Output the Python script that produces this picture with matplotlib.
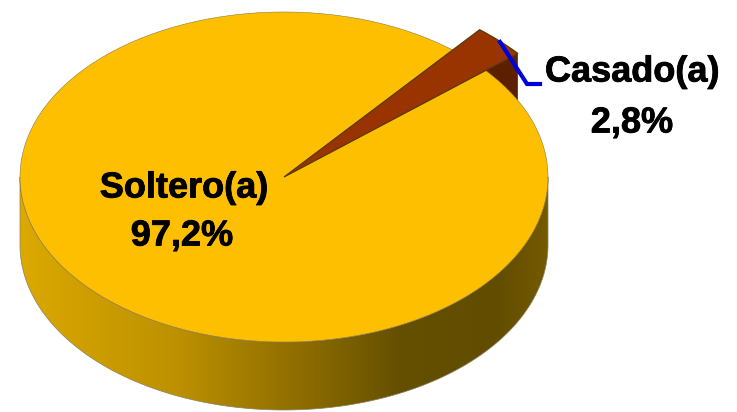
import numpy as np
import matplotlib
matplotlib.use("Agg")
import matplotlib.pyplot as plt
import matplotlib.patheffects as pe
from matplotlib.colors import LinearSegmentedColormap
from matplotlib.patches import Polygon

# data
categories = ["Soltero(a)", "Casado(a)"]
values = [97.2, 2.8]
slice_colors = ["#FDBF00", "#993300"]

W, H = 737, 412
CX, CY = 284, 177     # centre of the top face, pixels
RX, RY = 264, 165     # radii of the top face, pixels
DEPTH = 68 / RY       # height of the side wall, in axis units
START = 50.3          # degrees
CASADO_R = 1.16       # the small slice sticks out past the big one


def to_x(px):
    return (px - CX) / RX


def to_y(py):
    return (CY - py) / RY


plt.rcParams['font.family'] = ['Liberation Sans', 'DejaVu Sans']
fig = plt.figure(figsize=(W / 100, H / 100), dpi=100)
ax = fig.add_axes([0, 0, 1, 1])

# side wall with the left to right shading
rim_cmap = LinearSegmentedColormap.from_list("rim", [
    (0.0, "#DCA900"), (0.3, "#BC9000"), (0.55, "#8A6A00"),
    (0.72, "#655000"), (0.9, "#614C00"), (1.0, "#745A00")])
t = np.radians(np.linspace(180, 360, 200))
rim_x = np.concatenate([np.cos(t), np.cos(t[::-1])])
rim_y = np.concatenate([np.sin(t) - DEPTH, np.sin(t[::-1])])
rim_shape = Polygon(np.column_stack([rim_x, rim_y]), closed=True, transform=ax.transData,
                    facecolor="none", edgecolor="#8a8060", linewidth=0.5, zorder=2)
ax.add_patch(rim_shape)
gradient = ax.imshow(np.linspace(0, 1, 256).reshape(1, -1), cmap=rim_cmap, aspect="auto",
                     extent=(-1, 1, -1 - DEPTH, 0), zorder=1)
gradient.set_clip_path(rim_shape)

# cut face of the small slice, sits behind the big slice
end_casado = START - 360 * values[1] / sum(values)
corner = (CASADO_R * np.cos(np.radians(end_casado)), CASADO_R * np.sin(np.radians(end_casado)))
ax.add_patch(Polygon([(0, 0), corner, (corner[0], corner[1] - DEPTH), (0, -DEPTH)],
                     closed=True, facecolor="#5C1F00", edgecolor="none", zorder=3))

# the two slices
wedges, _ = ax.pie(values, colors=slice_colors, startangle=START, counterclock=True,
                   radius=1, center=(0, 0), frame=False)
wedges[0].set_zorder(5)
wedges[0].set_edgecolor("#8a7a40")
wedges[0].set_linewidth(0.4)
wedges[1].set_radius(CASADO_R)
wedges[1].set_zorder(6)
wedges[1].set_edgecolor("#5a3a08")
wedges[1].set_linewidth(0.9)

# leader line for the small slice
ax.plot([to_x(500), to_x(527), to_x(540)], [to_y(42), to_y(84), to_y(84)],
        color="#0000DD", linewidth=3.0, solid_joinstyle="miter", zorder=7)

# labels
pct = [f"{v:.1f}%".replace(".", ",") for v in values]
label_style = dict(ha="center", va="center", fontsize=26, fontweight="bold", color="black", zorder=8,
                   path_effects=[pe.withStroke(linewidth=0.6, foreground="black")])
ax.text(to_x(184), to_y(188), categories[0], **label_style)
ax.text(to_x(182), to_y(236), pct[0], **label_style)
ax.text(to_x(632), to_y(72), categories[1], **label_style)
ax.text(to_x(632), to_y(123), pct[1], **label_style)

ax.set_aspect("auto")
ax.set_xlim(to_x(0), to_x(W))
ax.set_ylim(to_y(H), to_y(0))
ax.axis("off")

fig.savefig("out.png", dpi=100, facecolor="white")
